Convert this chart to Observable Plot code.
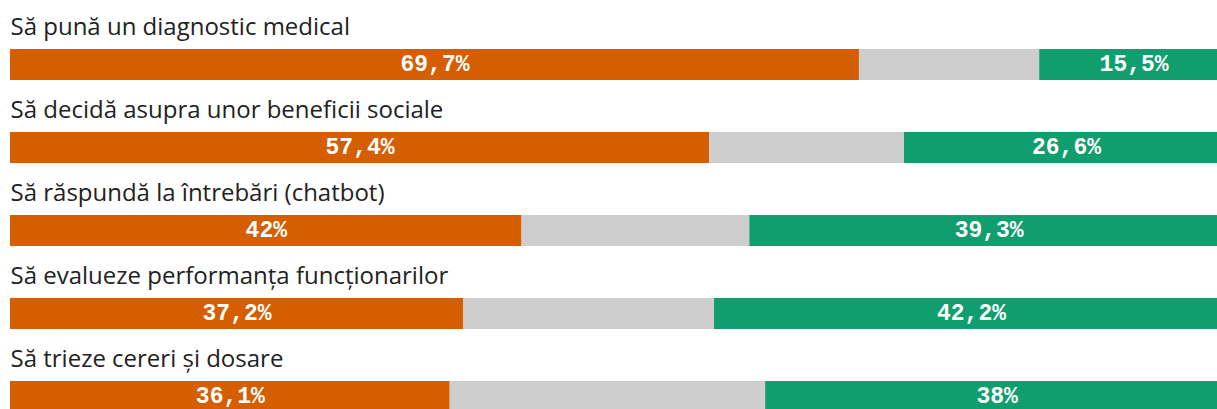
<!DOCTYPE html>
<html>
<head>
<meta charset="utf-8">
<script src="https://cdn.jsdelivr.net/npm/d3@7"></script>
<script src="https://cdn.jsdelivr.net/npm/@observablehq/plot@0.6"></script>
<style>
  html, body { margin: 0; padding: 0; background: #fff; overflow: hidden; }
  #chart svg { overflow: hidden; }
</style>
</head>
<body>
<div id="chart"></div>
<script>
const categories = [
  "Să pună un diagnostic medical",
  "Să decidă asupra unor beneficii sociale",
  "Să răspundă la întrebări (chatbot)",
  "Să evalueze performanța funcționarilor",
  "Să trieze cereri și dosare"
];
const against = [69.7, 57.4, 42, 37.2, 36.1];
const neutral = [14.8, 16.0, 18.7, 20.6, 25.9];
const favor = [15.5, 26.6, 39.3, 42.2, 38];
const types = ["against", "neutral", "favor"];
const colors = ["#d55e00", "#cecece", "#119e6e"];

const rows = [];
categories.forEach((c, i) => {
  rows.push({cat: c, type: "against", value: against[i]});
  rows.push({cat: c, type: "neutral", value: neutral[i]});
  rows.push({cat: c, type: "favor", value: favor[i]});
});
const fmt = v => String(v).replace(".", ",") + "%";

const chart = Plot.plot({
  width: 1217,
  height: 409,
  marginLeft: 10,
  marginRight: -11,
  marginTop: 0,
  marginBottom: 0,
  x: {domain: [0, 100], axis: null},
  y: {domain: categories, range: [-5, 414], padding: 0, axis: null},
  color: {domain: types, range: colors},
  style: {background: "#fff"},
  marks: [
    Plot.barX(rows, Plot.stackX({x: "value", y: "cat", fill: "type", z: "type", order: types, insetTop: 52, insetBottom: 0})),
    Plot.text(rows, Plot.stackX({
      x: "value", y: "cat", z: "type", order: types,
      text: d => d.type === "neutral" ? "" : fmt(d.value),
      fill: "white", fontWeight: "bold", fontSize: 23,
      fontFamily: "Liberation Mono", dy: 25
    })),
    Plot.text(categories, {
      y: d => d, text: d => d, frameAnchor: "left", textAnchor: "start",
      dy: -12, fontSize: 24, fill: "#222", fontFamily: "Open Sans"
    })
  ]
});
document.getElementById("chart").appendChild(chart);
</script>
</body>
</html>
